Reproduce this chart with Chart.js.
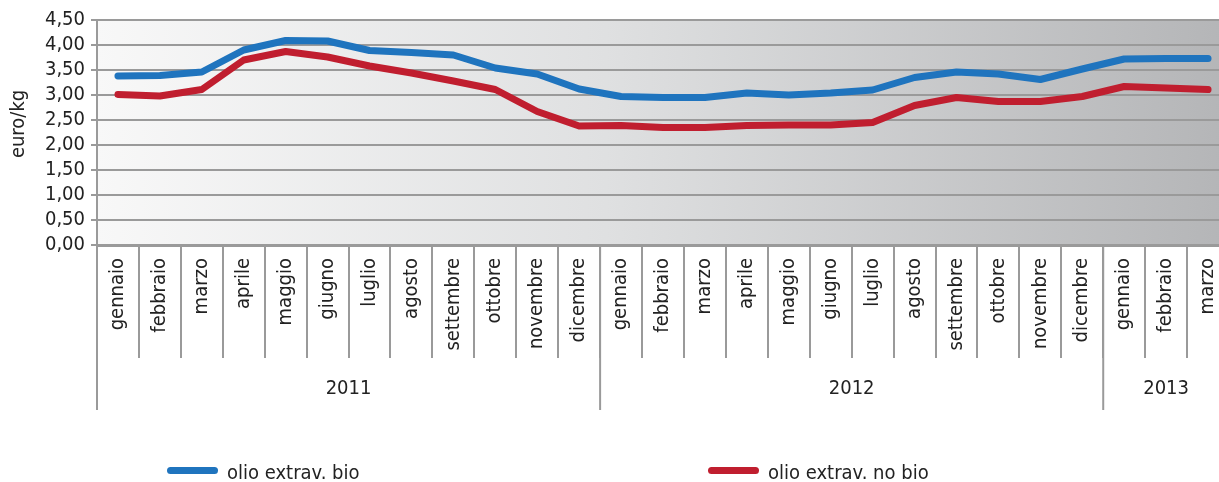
<!DOCTYPE html>
<html>
<head>
<meta charset="utf-8">
<script src="https://cdn.jsdelivr.net/npm/chart.js@4.4.1/dist/chart.umd.min.js"></script>
<style>
  html, body { margin: 0; padding: 0; background: #fff; overflow: hidden; width: 1219px; height: 482px; }
  #wrap { position: relative; width: 1240px; height: 482px; }
  canvas { display: block; }
  .sw { position: absolute; top: 467px; width: 51px; height: 7px; border-radius: 4px; }
  .lbl { position: absolute; top: 462px; font: 20px "DejaVu Sans Condensed", "DejaVu Sans", sans-serif; line-height: 20px; color: #222; white-space: nowrap; }
</style>
</head>
<body>
<div id="wrap">
  <canvas id="chart" width="1240" height="482"></canvas>
  <div id="legend"></div>
</div>
<script>
// months, grouped by year
const months = [
  "gennaio", "febbraio", "marzo", "aprile", "maggio", "giugno",
  "luglio", "agosto", "settembre", "ottobre", "novembre", "dicembre",
  "gennaio", "febbraio", "marzo", "aprile", "maggio", "giugno",
  "luglio", "agosto", "settembre", "ottobre", "novembre", "dicembre",
  "gennaio", "febbraio", "marzo"
];
const years = ["2011", "2012", "2013"];
const monthsPerYear = [12, 12, 3];

// euro/kg
const bio = [
  3.38, 3.39, 3.46, 3.90, 4.09, 4.08, 3.89, 3.85, 3.80, 3.54, 3.42, 3.12,
  2.97, 2.95, 2.95, 3.04, 3.00, 3.04, 3.10, 3.35, 3.46, 3.42, 3.31, 3.52,
  3.72, 3.73, 3.73
];
const noBio = [
  3.01, 2.98, 3.11, 3.70, 3.87, 3.76, 3.58, 3.44, 3.28, 3.11, 2.67, 2.38,
  2.39, 2.35, 2.35, 2.39, 2.40, 2.40, 2.45, 2.79, 2.95, 2.87, 2.87, 2.97,
  3.17, 3.14, 3.11
];

const seriesNames = ["olio extrav. bio", "olio extrav. no bio"];
const seriesColors = ["#1f74be", "#c01e2f"];
const legendX = [167, 708];

const textColor = "#222";
const lineGray = "#9a9a9a";
const font = { family: "'DejaVu Sans Condensed', 'DejaVu Sans', sans-serif", size: 20 };

// gradient behind the plot
const plotBackground = {
  id: "plotBackground",
  beforeDraw(chart) {
    const { ctx, chartArea: a } = chart;
    const g = ctx.createLinearGradient(a.left, 0, a.right, 0);
    g.addColorStop(0, "#f8f8f8");
    g.addColorStop(0.45, "#dfe0e1");
    g.addColorStop(1, "#b4b5b7");
    ctx.save();
    ctx.fillStyle = g;
    ctx.fillRect(a.left, a.top, a.right - a.left, a.bottom - a.top);
    ctx.restore();
  }
};

// year groups under the month labels
const yearGroups = {
  id: "yearGroups",
  afterDraw(chart) {
    const { ctx, chartArea: a } = chart;
    const x = chart.scales.x;
    const half = (x.getPixelForValue(1) - x.getPixelForValue(0)) / 2;
    ctx.save();
    ctx.strokeStyle = lineGray;
    ctx.lineWidth = 2;
    ctx.fillStyle = textColor;
    ctx.font = font.size + "px " + font.family;
    ctx.textAlign = "center";
    ctx.textBaseline = "middle";
    let start = 0;
    years.forEach((yr, i) => {
      const end = start + monthsPerYear[i] - 1;
      const left = x.getPixelForValue(start) - half;
      const right = x.getPixelForValue(end) + half;
      ctx.beginPath();
      ctx.moveTo(left, a.bottom);
      ctx.lineTo(left, a.bottom + 165);
      ctx.stroke();
      ctx.fillText(yr, (left + right) / 2, a.bottom + 144);
      start = end + 1;
    });
    ctx.restore();
  }
};

function buildLegend() {
  const box = document.getElementById("legend");
  seriesNames.forEach((name, i) => {
    const sw = document.createElement("div");
    sw.className = "sw";
    sw.style.left = legendX[i] + "px";
    sw.style.background = seriesColors[i];
    box.appendChild(sw);
    const lb = document.createElement("div");
    lb.className = "lbl";
    lb.style.left = (legendX[i] + 60) + "px";
    lb.textContent = name;
    box.appendChild(lb);
  });
}

const ctx = document.getElementById("chart").getContext("2d");
new Chart(ctx, {
  type: "line",
  data: {
    labels: months,
    datasets: [bio, noBio].map((d, i) => ({
      label: seriesNames[i],
      data: d,
      borderColor: seriesColors[i],
      backgroundColor: seriesColors[i],
      borderWidth: 7,
      pointRadius: 0,
      tension: 0,
      borderCapStyle: "round",
      borderJoinStyle: "round",
      fill: false
    }))
  },
  options: {
    responsive: false,
    animation: false,
    layout: { padding: { top: 20, right: 11, bottom: 0, left: 0 } },
    plugins: {
      legend: { display: false },
      tooltip: { enabled: false }
    },
    scales: {
      x: {
        offset: true,
        grid: {
          offset: true,
          drawOnChartArea: false,
          color: lineGray,
          lineWidth: 2,
          tickLength: 113
        },
        border: { color: lineGray, width: 3 },
        ticks: {
          autoSkip: false,
          minRotation: 90,
          maxRotation: 90,
          padding: -100,
          color: textColor,
          font: font
        },
        afterFit(s) { s.height = 237; }
      },
      y: {
        min: 0,
        max: 4.5,
        grid: { color: lineGray, lineWidth: 2, tickLength: 6 },
        border: { color: lineGray, width: 2 },
        ticks: {
          stepSize: 0.5,
          autoSkip: false,
          padding: 6,
          color: textColor,
          font: font,
          callback: (v) => v.toFixed(2).replace(".", ",")
        },
        title: {
          display: true,
          // leading spaces lift the rotated title a little, as in the original
          text: "\u00a0\u00a0\u00a0euro/kg",
          color: textColor,
          font: font,
          padding: { top: 7, bottom: 0 }
        },
        afterFit(s) { s.width = 97; }
      }
    }
  },
  plugins: [plotBackground, yearGroups]
});

buildLegend();
</script>
</body>
</html>
